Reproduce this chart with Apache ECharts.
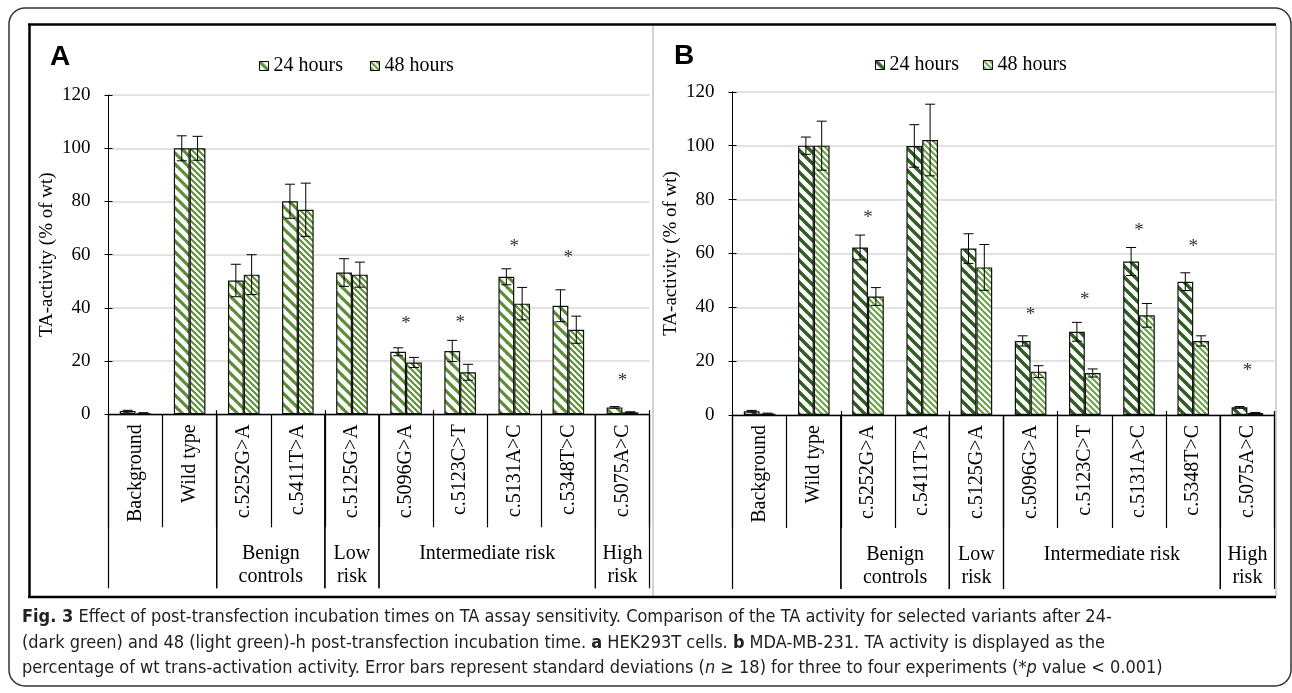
<!DOCTYPE html>
<html><head><meta charset="utf-8">
<script src="https://cdn.jsdelivr.net/npm/echarts/dist/echarts.min.js"></script>
<style>html,body{margin:0;padding:0;background:#fff}#c{width:1292px;height:693px}</style>
</head><body><div id="c"></div>
<script>
// ---------- data ----------
const categories = ['Background','Wild type','c.5252G>A','c.5411T>A','c.5125G>A','c.5096G>A','c.5123C>T','c.5131A>C','c.5348T>C','c.5075A>C'];
const seriesNames = ['24 hours','48 hours'];
const yTicks = [0,20,40,60,80,100,120];

const a24   = [1.2, 100, 50.3, 80.1, 53.3, 23.5, 23.8, 51.7, 40.8, 2.6];
const a24sd = [0.3, 4.7, 6.1, 6.4, 5.2, 1.5, 4.0, 3.0, 6.0, 0.3];
const a48   = [0.4, 100, 52.5, 76.9, 52.5, 19.5, 15.8, 41.6, 31.8, 0.75];
const a48sd = [0.2, 4.5, 7.5, 10.0, 4.7, 1.9, 3.0, 6.1, 5.1, 0.2];
const aStars = [null, null, null, null, null, 35, 35.4, 64.2, 60, 13.8];

const b24   = [1.4, 100, 62.2, 99.9, 61.8, 27.5, 30.9, 57.0, 49.5, 2.85];
const b24sd = [0.3, 3.2, 4.6, 7.9, 5.5, 1.9, 3.5, 5.2, 3.3, 0.3];
const b48   = [0.5, 100, 44.0, 102.1, 54.8, 16.1, 15.6, 37.0, 27.5, 0.75];
const b48sd = [0.2, 9.1, 3.3, 13.3, 8.5, 2.2, 1.5, 4.4, 1.9, 0.2];
const bStars = [null, null, 74.2, null, null, 38.1, 43.8, 69.4, 63.5, 17.4];

const groupNames = ['', 'Benign\ncontrols', 'Low\nrisk', 'Intermediate risk', 'High\nrisk'];
const groupStart = [0, 2, 4, 5, 9];
const groupEnd   = [1, 3, 4, 8, 9];

const yName = 'TA-activity (% of wt)';
const captionLines = [
  '{b|Fig. 3} Effect of post-transfection incubation times on TA assay sensitivity. Comparison of the TA activity for selected variants after 24-',
  '(dark green) and 48 (light green)-h post-transfection incubation time. {b|a} HEK293T cells. {b|b} MDA-MB-231. TA activity is displayed as the',
  'percentage of wt trans-activation activity. Error bars represent standard deviations ({i|n} ≥ 18) for three to four experiments (*{i|p} value < 0.001)'
];

// ---------- styles ----------
const SERIF = 'Liberation Serif';
const CAPF = '"DejaVu Sans Condensed", "Liberation Sans Narrow", "Liberation Sans"';
const CAPS = 18;
const BAR_W = 15.8;
function stripe(color, p, w) {
  const c = document.createElement('canvas');
  c.width = p; c.height = p;
  const g = c.getContext('2d');
  g.fillStyle = '#fff'; g.fillRect(0, 0, p, p);
  g.strokeStyle = color; g.lineWidth = w;
  for (let k = -1; k <= 1; k++) {
    g.beginPath(); g.moveTo(k * p - 2, -2); g.lineTo(k * p + p + 2, p + 2); g.stroke();
  }
  return { image: c, repeat: 'repeat' };
}
const patA24 = stripe('#5b8e34', 11, 3.2);
const patA48 = stripe('#5b8e34', 6, 2.0);
const patB24 = stripe('#2f5d22', 11, 3.4);
const patB48 = stripe('#6aa046', 6, 2.0);

const chart = echarts.init(document.getElementById('c'), null, { renderer: 'canvas' });

function errRender(params, api) {
  const i = api.value(0);
  const c = api.coord([i, 0]);
  const ch = [];
  [[api.value(1), api.value(2), -BAR_W / 2], [api.value(3), api.value(4), BAR_W / 2]].forEach(function (d) {
    const v = d[0], s = d[1], x = c[0] + d[2];
    const top = api.coord([i, v + s])[1], bot = api.coord([i, Math.max(v - s, 0)])[1];
    const st = { stroke: '#000', lineWidth: 1 };
    ch.push({ type: 'line', shape: { x1: x, y1: top, x2: x, y2: bot }, style: st });
    ch.push({ type: 'line', shape: { x1: x - 5, y1: top, x2: x + 5, y2: top }, style: st });
    ch.push({ type: 'line', shape: { x1: x - 5, y1: bot, x2: x + 5, y2: bot }, style: st });
  });
  return { type: 'group', children: ch };
}
function starRender(params, api) {
  const p = api.coord([api.value(0), api.value(1)]);
  return { type: 'text', style: { text: '*', x: p[0], y: p[1] + 3, align: 'center', verticalAlign: 'middle',
    fontFamily: SERIF, fontSize: 19, fill: '#333' } };
}
function groupRender(params, api) {
  const s = api.value(0), e = api.value(1);
  const bw = api.size([1, 0])[0];
  const p0 = api.coord([s, 0]), p1 = api.coord([e, 0]);
  const xl = p0[0] - bw / 2, xr = p1[0] + bw / 2, y0 = p0[1];
  const st = { stroke: '#000', lineWidth: 1.2 };
  return { type: 'group', children: [
    { type: 'line', shape: { x1: xl, y1: y0, x2: xl, y2: y0 + 174 }, style: st },
    { type: 'line', shape: { x1: xr, y1: y0, x2: xr, y2: y0 + 174 }, style: st },
    { type: 'text', style: { text: groupNames[params.dataIndex], x: (xl + xr) / 2, y: y0 + 128,
      align: 'center', verticalAlign: 'top', fontFamily: SERIF, fontSize: 20, lineHeight: 23, fill: '#000' } }
  ] };
}

function xAxes(gi) {
  return [
    { type: 'category', gridIndex: gi, data: categories,
      axisLine: { lineStyle: { color: '#000', width: 1.3 } },
      axisTick: { show: true, length: 113, lineStyle: { color: '#000', width: 1.2 } },
      axisLabel: { interval: 0, rotate: 90, margin: 10, fontFamily: SERIF, fontSize: 20, color: '#000' } },
    { type: 'category', gridIndex: gi, data: categories, position: 'bottom',
      axisLine: { show: false }, axisLabel: { show: false },
      axisTick: { show: true, inside: true, length: 4, lineStyle: { color: '#000', width: 1.2 } } }
  ];
}
function yAxes(gi) {
  return [
    { type: 'value', gridIndex: gi, min: yTicks[0], max: yTicks[yTicks.length - 1], interval: 20,
      name: yName, nameLocation: 'middle', nameGap: 52, nameRotate: 90,
      nameTextStyle: { fontFamily: SERIF, fontSize: 19, color: '#000' },
      axisLine: { show: true, lineStyle: { color: '#000', width: 1 } },
      axisTick: { show: true, length: 4, lineStyle: { color: '#000' } },
      axisLabel: { margin: 18, fontFamily: SERIF, fontSize: 19, color: '#000' },
      splitLine: { lineStyle: { color: '#d9d9d9', width: 1.5 } } },
    { type: 'value', gridIndex: gi, min: yTicks[0], max: yTicks[yTicks.length - 1], interval: 20, position: 'left',
      axisLine: { show: false }, axisLabel: { show: false }, splitLine: { show: false },
      axisTick: { show: true, inside: true, length: 4, lineStyle: { color: '#000' } } }
  ];
}
function barSeries(name, data, pat, xi, yi) {
  return { type: 'bar', name: name, data: data, xAxisIndex: xi, yAxisIndex: yi,
    barWidth: BAR_W, barGap: '0%', z: 2,
    itemStyle: { color: pat, borderColor: '#111', borderWidth: 1.2 },
    emphasis: { disabled: true } };
}
function errData(v1, s1, v2, s2) { return categories.map((c, i) => [i, v1[i], s1[i], v2[i], s2[i]]); }
function starData(arr) { const o = []; arr.forEach((v, i) => { if (v !== null) o.push([i, v]); }); return o; }
function groupData() { return groupStart.map((s, i) => [s, groupEnd[i]]); }

const capRich = {
  b: { fontFamily: CAPF, fontSize: CAPS, fontWeight: 'bold', fill: '#222' },
  i: { fontFamily: CAPF, fontSize: CAPS, fontStyle: 'italic', fill: '#222' }
};
function capText(t, y) {
  return { type: 'text', silent: true, style: { text: t, x: 22, y: y, verticalAlign: 'middle', rich: capRich,
    fontFamily: CAPF, fontSize: CAPS, fill: '#222' } };
}

const option = {
  animation: false,
  backgroundColor: '#fff',
  grid: [
    { left: 108.5, top: 95.1, width: 541, height: 319.2, containLabel: false },
    { left: 732.5, top: 91.8, width: 542, height: 323.2, containLabel: false }
  ],
  legend: [
    { left: 259, top: 56, padding: 0, icon: 'rect', itemWidth: 9, itemHeight: 9, itemGap: 27,
      textStyle: { fontFamily: SERIF, fontSize: 20, color: '#000' },
      data: [{ name: seriesNames[0], itemStyle: { color: patA24, borderColor: '#000', borderWidth: 1 } },
             { name: seriesNames[1], itemStyle: { color: patA48, borderColor: '#000', borderWidth: 1 } }] },
    { left: 875, top: 55, padding: 0, icon: 'rect', itemWidth: 9, itemHeight: 9, itemGap: 24,
      textStyle: { fontFamily: SERIF, fontSize: 20, color: '#000' },
      data: [{ name: seriesNames[0], itemStyle: { color: patB24, borderColor: '#000', borderWidth: 1 } },
             { name: seriesNames[1], itemStyle: { color: patB48, borderColor: '#000', borderWidth: 1 } }] }
  ],
  xAxis: [].concat(xAxes(0), xAxes(1)),
  yAxis: [].concat(yAxes(0), yAxes(1)),
  series: [
    barSeries(seriesNames[0], a24, patA24, 0, 0),
    barSeries(seriesNames[1], a48, patA48, 0, 0),
    barSeries(seriesNames[0], b24, patB24, 2, 2),
    barSeries(seriesNames[1], b48, patB48, 2, 2),
    { type: 'custom', xAxisIndex: 0, yAxisIndex: 0, renderItem: errRender, data: errData(a24, a24sd, a48, a48sd), z: 4, clip: false, silent: true },
    { type: 'custom', xAxisIndex: 2, yAxisIndex: 2, renderItem: errRender, data: errData(b24, b24sd, b48, b48sd), z: 4, clip: false, silent: true },
    { type: 'custom', xAxisIndex: 0, yAxisIndex: 0, renderItem: starRender, data: starData(aStars), z: 4, clip: false, silent: true },
    { type: 'custom', xAxisIndex: 2, yAxisIndex: 2, renderItem: starRender, data: starData(bStars), z: 4, clip: false, silent: true },
    { type: 'custom', xAxisIndex: 0, yAxisIndex: 0, renderItem: groupRender, data: groupData(), z: 4, clip: false, silent: true },
    { type: 'custom', xAxisIndex: 2, yAxisIndex: 2, renderItem: groupRender, data: groupData(), z: 4, clip: false, silent: true }
  ],
  graphic: [
    { type: 'rect', shape: { x: 9, y: 8, width: 1282, height: 678, r: 16 }, style: { fill: 'none', stroke: '#333', lineWidth: 1.5 }, silent: true },
    { type: 'line', shape: { x1: 653, y1: 25, x2: 653, y2: 597 }, style: { stroke: '#d4d4d4', lineWidth: 2 }, silent: true },
    { type: 'line', shape: { x1: 1276, y1: 25, x2: 1276, y2: 597 }, style: { stroke: '#d4d4d4', lineWidth: 2 }, silent: true },
    { type: 'line', shape: { x1: 28, y1: 24.5, x2: 1276, y2: 24.5 }, style: { stroke: '#000', lineWidth: 2.5 }, silent: true },
    { type: 'line', shape: { x1: 29.5, y1: 24, x2: 29.5, y2: 598 }, style: { stroke: '#000', lineWidth: 2.5 }, silent: true },
    { type: 'line', shape: { x1: 28, y1: 597, x2: 1276, y2: 597 }, style: { stroke: '#000', lineWidth: 2.5 }, silent: true },
    { type: 'text', style: { text: 'A', x: 50, y: 57, verticalAlign: 'middle', fontFamily: 'Liberation Sans', fontWeight: 'bold', fontSize: 28, fill: '#000' }, silent: true },
    { type: 'text', style: { text: 'B', x: 674, y: 56, verticalAlign: 'middle', fontFamily: 'Liberation Sans', fontWeight: 'bold', fontSize: 28, fill: '#000' }, silent: true },
    capText(captionLines[0], 617),
    capText(captionLines[1], 643),
    capText(captionLines[2], 668)
  ]
};
chart.setOption(option);
</script>
</body></html>
